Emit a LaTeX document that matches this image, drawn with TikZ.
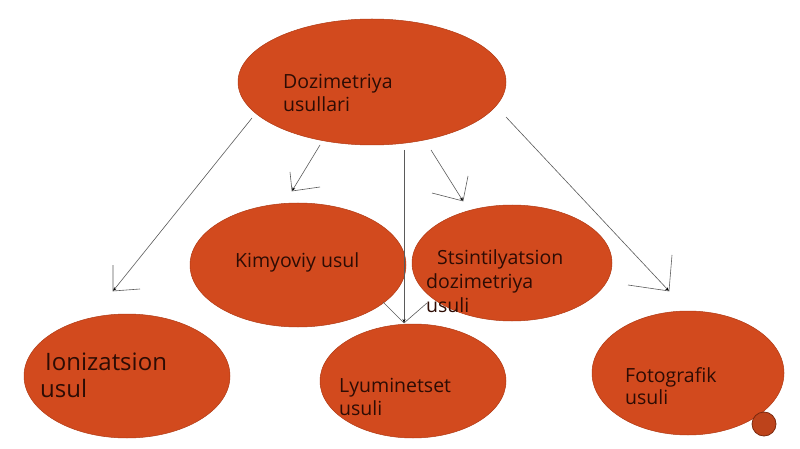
\documentclass[tikz,border=0pt]{standalone}
\usepackage{fontspec}
\setmainfont{Open Sans}
\usetikzlibrary{shapes.geometric,arrows.meta}
\definecolor{ovalfill}{RGB}{210,74,30}
\definecolor{ovaledge}{RGB}{176,58,20}
\definecolor{txt}{RGB}{45,12,4}
\definecolor{linec}{RGB}{90,90,90}
\tikzset{
  oval/.style={ellipse, fill=ovalfill, draw=ovaledge, line width=0.5pt, inner sep=0pt},
  lbl/.style={anchor=west, align=left, text=txt, font=\fontsize{19.5}{22.5}\selectfont, inner sep=0pt},
  conn/.style={draw=linec, line width=0.6pt, -{Stealth[length=4pt,width=3pt,black]}},
  barb/.style={draw=linec, line width=0.6pt},
}
\begin{document}
\begin{tikzpicture}[x=1pt,y=-1pt]
\useasboundingbox (0,0) rectangle (800,449);
% ovals
\node[oval, minimum width=268, minimum height=126] (top) at (372,82) {};
\node[oval, minimum width=216, minimum height=124] (kim) at (298,265) {};
\node[oval, minimum width=200, minimum height=116] (sts) at (512,263) {};
\node[oval, minimum width=206, minimum height=124] (ion) at (127,376) {};
\node[oval, minimum width=186, minimum height=114] (lyu) at (413,381) {};
\node[oval, minimum width=192, minimum height=124] (fot) at (688,373) {};
\node[circle, minimum size=24, inner sep=0pt, fill=ovalfill!90!black, draw=ovaledge!70!black, line width=0.8pt] (dot) at (764,424) {};
% labels
\node[lbl] (ttop) at (283,93) {Dozimetriya\\usullari};
\node[lbl] (tkim) at (235,262) {Kimyoviy usul};
\node[lbl, font=\fontsize{19.5}{24}\selectfont] (tsts) at (426,281) {\hspace*{11pt}Stsintilyatsion\\dozimetriya\\usuli};
\node[lbl, font=\fontsize{24}{27}\selectfont] (tion) at (40,375) {\hspace*{5pt}Ionizatsion\\usul};
\node[lbl] (tlyu) at (339,397) {Lyuminetset\\usuli};
\node[lbl] (tfot) at (625,386) {Fotografik\\usuli};
% connector ends
\coordinate (s1) at (252,118); \coordinate (e1) at (113,291);
\coordinate (s2) at (320,145); \coordinate (e2) at (292,191);
\coordinate (s3) at (431,150); \coordinate (e3) at (463,201);
\coordinate (s4) at (506,117); \coordinate (e4) at (669,291);
\coordinate (s5) at (404,150); \coordinate (e5) at (404,323);
\draw[conn] (s1) -- (e1);
\draw[barb] (113,265) -- (e1) -- (140,289);
\draw[conn] (s2) -- (e2);
\draw[barb] (290,172) -- (e2) -- (320,187);
\draw[conn] (s3) -- (e3);
\draw[barb] (468,176) -- (e3) -- (432,193);
\draw[conn] (s4) -- (e4);
\draw[barb] (672,255) -- (e4) -- (628,285);
\draw[conn] (s5) -- (e5);
\draw[barb] (383,302) -- (e5) -- (427,303);
\end{tikzpicture}
\end{document}
